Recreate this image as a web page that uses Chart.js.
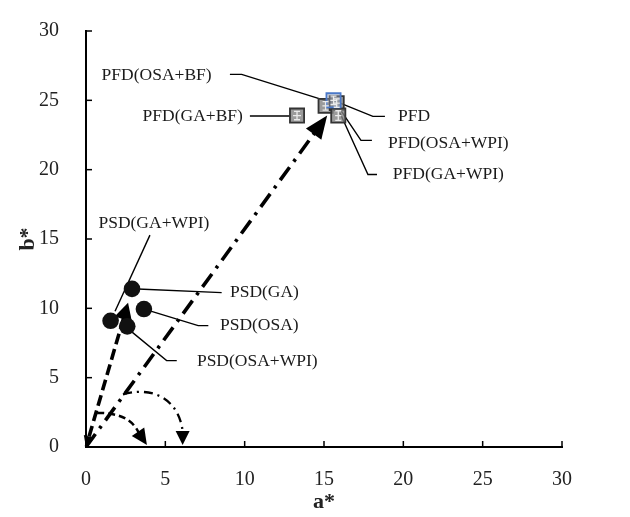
<!DOCTYPE html>
<html><head><meta charset="utf-8">
<script src="https://cdn.jsdelivr.net/npm/chart.js@4.4.1/dist/chart.umd.min.js"></script>
<style>html,body{margin:0;padding:0;background:#fff;}canvas{display:block;}</style>
</head><body>
<canvas id="c" width="630" height="517"></canvas>
<script>
// ---- data ----
const axisMin = 0, axisMax = 30, axisStep = 5;
const pfdNames = ['PFD', 'PFD(OSA+BF)', 'PFD(OSA+WPI)', 'PFD(GA+WPI)', 'PFD(GA+BF)'];
const pfdA = [15.6, 15.1, 15.8, 15.9, 13.3];
const pfdB = [25.0, 24.6, 24.8, 23.9, 23.9];
const pfdErrA = [0.2, 0.2, 0.2, 0.2, 0.25];
const pfdErrB = [0.3, 0.3, 0.3, 0.35, 0.3];
const psdNames = ['PSD(GA)', 'PSD(OSA)', 'PSD(GA+WPI)', 'PSD(OSA+WPI)'];
const psdA = [2.9, 3.65, 1.55, 2.6];
const psdB = [11.4, 9.95, 9.1, 8.7];
// hue vectors (a*, b*) from origin
const psdVector = [2.65, 10.4];
const pfdVector = [15.2, 23.9];

// ---- annotation geometry (data units) ----
const labelText = ['PFD(OSA+BF)', 'PFD(GA+BF)', 'PFD', 'PFD(OSA+WPI)', 'PFD(GA+WPI)',
                   'PSD(GA+WPI)', 'PSD(GA)', 'PSD(OSA)', 'PSD(OSA+WPI)'];
const labelPos = [[7.92, 26.83], [9.89, 23.87], [19.66, 23.87], [19.03, 21.9], [19.34, 19.65],
                  [4.28, 16.13], [9.07, 11.13], [8.44, 8.8], [6.99, 6.2]];
const labelAlign = ['right', 'right', 'left', 'left', 'left', 'center', 'left', 'left', 'left'];
const leaderPaths = [
  [[9.07, 26.87], [9.81, 26.87], [15.45, 24.85]],
  [[10.33, 23.87], [12.92, 23.87]],
  [[18.84, 23.84], [18.08, 23.84], [15.75, 24.93]],
  [[18.02, 22.11], [17.33, 22.11], [15.88, 24.58]],
  [[18.34, 19.65], [17.77, 19.65], [16.0, 24.1]],
  [[4.03, 15.28], [1.83, 9.79]],
  [[8.55, 11.13], [2.9, 11.41]],
  [[7.71, 8.75], [7.07, 8.75], [3.72, 9.93]],
  [[5.72, 6.23], [5.08, 6.23], [2.58, 8.59]]
];
// hue-angle arcs: cubic bezier P0..P3 then arrow tip
const arcDashed = [[0.7, 2.46], [2.27, 2.46], [2.96, 1.9], [3.34, 0.99], [3.84, 0.14]];
const arcDashDot = [[2.33, 3.8], [4.66, 4.51], [5.92, 2.96], [6.09, 1.13], [6.09, 0.14]];

const serif = "'Liberation Serif','Times New Roman',serif";

const px = (chart, p) => [chart.scales.x.getPixelForValue(p[0]), chart.scales.y.getPixelForValue(p[1])];

function head(ctx, from, tip, len, half) {
  const dx = tip[0] - from[0], dy = tip[1] - from[1];
  const d = Math.hypot(dx, dy) || 1;
  const ux = dx / d, uy = dy / d;
  const bx = tip[0] - ux * len, by = tip[1] - uy * len;
  ctx.beginPath();
  ctx.moveTo(tip[0], tip[1]);
  ctx.lineTo(bx - uy * half, by + ux * half);
  ctx.lineTo(bx + uy * half, by - ux * half);
  ctx.closePath();
  ctx.fill();
  return [bx, by];
}

const decor = {
  id: 'decor',
  beforeDatasetsDraw(chart) {
    const ctx = chart.ctx;
    ctx.save();
    ctx.fillStyle = '#000';
    ctx.strokeStyle = '#000';
    // leader lines
    ctx.lineWidth = 1.4;
    ctx.setLineDash([]);
    leaderPaths.forEach(path => {
      ctx.beginPath();
      path.forEach((p, i) => { const q = px(chart, p); i ? ctx.lineTo(q[0], q[1]) : ctx.moveTo(q[0], q[1]); });
      ctx.stroke();
    });
    // main vectors
    const o = px(chart, [0, 0]);
    const vecs = [
      {end: psdVector, dash: [11, 5], len: 17, half: 9, tail: true},
      {end: pfdVector, dash: [16, 7, 3, 7], len: 23, half: 9.5, tail: false}
    ];
    vecs.forEach(v => {
      const e = px(chart, v.end);
      const base = head(ctx, o, e, v.len, v.half);
      let start = o;
      if (v.tail) start = head(ctx, e, o, 11, 5.5);
      ctx.lineWidth = 3.6;
      ctx.lineCap = 'butt';
      ctx.setLineDash(v.dash);
      ctx.beginPath();
      ctx.moveTo(start[0], start[1]);
      ctx.lineTo(base[0] + (e[0] - base[0]) * 0.2, base[1] + (e[1] - base[1]) * 0.2);
      ctx.stroke();
      ctx.setLineDash([]);
    });
    // arcs
    const arcs = [
      {pts: arcDashed, dash: [7, 4], w: 2.5, len: 16, half: 7.5},
      {pts: arcDashDot, dash: [9, 5, 2, 5], w: 2.3, len: 14, half: 7}
    ];
    arcs.forEach(a => {
      const p = a.pts.map(q => px(chart, q));
      ctx.lineWidth = a.w;
      ctx.setLineDash(a.dash);
      ctx.beginPath();
      ctx.moveTo(p[0][0], p[0][1]);
      ctx.bezierCurveTo(p[1][0], p[1][1], p[2][0], p[2][1], p[3][0], p[3][1]);
      ctx.stroke();
      ctx.setLineDash([]);
      head(ctx, p[3], p[4], a.len, a.half);
    });
    ctx.restore();
  },
  afterDatasetsDraw(chart) {
    const ctx = chart.ctx;
    ctx.save();
    // error bars inside PFD squares
    ctx.strokeStyle = 'rgba(240,240,240,0.95)';
    ctx.lineWidth = 1.3;
    pfdA.forEach((a, i) => {
      const b = pfdB[i];
      const t = px(chart, [a, b + pfdErrB[i]]), bt = px(chart, [a, b - pfdErrB[i]]);
      const l = px(chart, [a - pfdErrA[i], b]), r = px(chart, [a + pfdErrA[i], b]);
      ctx.beginPath();
      ctx.moveTo(t[0], t[1]); ctx.lineTo(bt[0], bt[1]);
      ctx.moveTo(t[0] - 3, t[1]); ctx.lineTo(t[0] + 3, t[1]);
      ctx.moveTo(bt[0] - 3, bt[1]); ctx.lineTo(bt[0] + 3, bt[1]);
      ctx.moveTo(l[0], l[1]); ctx.lineTo(r[0], r[1]);
      ctx.stroke();
    });
    // labels
    ctx.fillStyle = '#1a1a1a';
    ctx.font = '17.5px ' + serif;
    ctx.textBaseline = 'middle';
    labelText.forEach((t, i) => {
      const q = px(chart, labelPos[i]);
      ctx.textAlign = labelAlign[i];
      ctx.fillText(t, q[0], q[1]);
    });
    ctx.restore();
  },
  afterDraw(chart) {
    // inward tick marks
    const ctx = chart.ctx, xs = chart.scales.x, ys = chart.scales.y;
    ctx.save();
    ctx.strokeStyle = '#000';
    ctx.lineWidth = 1.5;
    const y0 = ys.getPixelForValue(0), x0 = xs.getPixelForValue(0);
    xs.ticks.forEach(t => {
      const x = xs.getPixelForValue(t.value);
      ctx.beginPath(); ctx.moveTo(x, y0); ctx.lineTo(x, y0 - 6); ctx.stroke();
    });
    ys.ticks.forEach(t => {
      const y = ys.getPixelForValue(t.value);
      ctx.beginPath(); ctx.moveTo(x0, y); ctx.lineTo(x0 + 6, y); ctx.stroke();
    });
    ctx.restore();
  }
};

const toPts = (A, B) => A.map((a, i) => ({x: a, y: B[i]}));

new Chart(document.getElementById('c'), {
  type: 'scatter',
  data: {
    datasets: [
      {
        label: pfdNames[0],
        data: toPts(pfdA.slice(0, 1), pfdB.slice(0, 1)),
        pointStyle: 'rect', pointRadius: 10,
        backgroundColor: 'rgba(150,160,180,0.45)', borderColor: '#4a78c8', borderWidth: 1.8
      },
      {
        label: 'PFD samples',
        data: toPts(pfdA.slice(1), pfdB.slice(1)),
        pointStyle: 'rect', pointRadius: 10,
        backgroundColor: 'rgba(130,130,130,0.8)', borderColor: '#333', borderWidth: 1.8
      },
      {
        label: 'PSD samples',
        data: toPts(psdA, psdB),
        pointStyle: 'circle', pointRadius: 8.3,
        backgroundColor: '#111', borderColor: '#111', borderWidth: 0
      }
    ]
  },
  options: {
    responsive: false,
    animation: false,
    events: [],
    layout: {padding: {left: 0, top: 21, right: 68, bottom: 0}},
    plugins: {legend: {display: false}, tooltip: {enabled: false}},
    scales: {
      x: {
        type: 'linear', min: axisMin, max: axisMax,
        grid: {display: false},
        border: {display: true, color: '#000', width: 2},
        ticks: {stepSize: axisStep, color: '#222', padding: 13, font: {family: serif, size: 20}},
        title: {display: true, text: 'a*', color: '#222', padding: {top: 0, bottom: 1},
                font: {family: serif, size: 22, weight: 'bold'}},
        afterFit(s) { s.height = 70; }
      },
      y: {
        type: 'linear', min: axisMin, max: axisMax,
        grid: {display: false},
        border: {display: true, color: '#000', width: 2},
        ticks: {stepSize: axisStep, color: '#222', padding: 19, font: {family: serif, size: 20}},
        title: {display: true, text: 'b*', color: '#222', padding: {top: 15, bottom: 0},
                font: {family: serif, size: 22, weight: 'bold'}},
        afterFit(s) { s.width = 86; }
      }
    }
  },
  plugins: [decor]
});
</script>
</body></html>
